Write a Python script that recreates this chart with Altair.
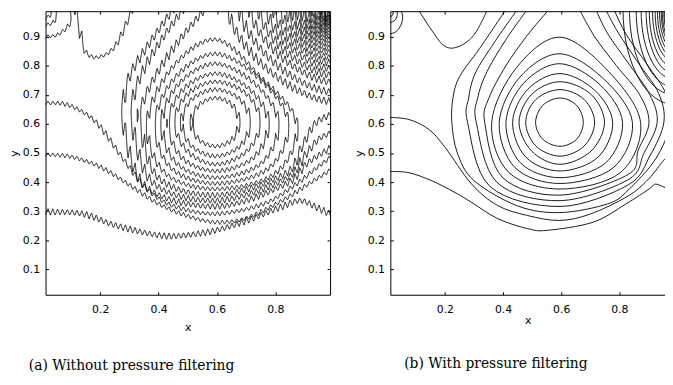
import altair as alt
import numpy as np
import pandas as pd
from collections import defaultdict

# ---------------- axes ----------------
X_LO, X_HI = 0.0125, 0.9875
Y_LO, Y_HI = 0.0125, 0.9875
B_X_HI = 0.957            # panel (b) is cut by the page edge
X_TICKS = [0.2, 0.4, 0.6, 0.8]
Y_TICKS = [0.1, 0.2, 0.3, 0.4, 0.5, 0.6, 0.7, 0.8, 0.9]
CAPTION_A = "(a) Without pressure filtering"
CAPTION_B = "(b) With pressure filtering"

W_A, W_B, H = 288, 278, 287

# ---------------- (b) with pressure filtering : contour lines (x, y) ----------------
b_r1 = [(0.676, 0.605), (0.653, 0.664), (0.596, 0.689), (0.537, 0.664), (0.512, 0.605),
        (0.537, 0.547), (0.596, 0.523), (0.653, 0.547)]
b_r2 = [(0.715, 0.605), (0.679, 0.684), (0.596, 0.718), (0.513, 0.684), (0.478, 0.605),
        (0.513, 0.524), (0.596, 0.489), (0.679, 0.524)]
b_r3 = [(0.749, 0.605), (0.702, 0.702), (0.596, 0.745), (0.499, 0.702), (0.455, 0.605),
        (0.499, 0.506), (0.596, 0.461), (0.702, 0.506)]
b_r4 = [(0.777, 0.605), (0.715, 0.716), (0.596, 0.773), (0.485, 0.719), (0.433, 0.605),
        (0.479, 0.485), (0.596, 0.438), (0.726, 0.485)]
b_r5 = [(0.811, 0.605), (0.734, 0.734), (0.596, 0.807), (0.471, 0.740), (0.410, 0.605),
        (0.460, 0.466), (0.596, 0.415), (0.753, 0.466)]
b_r6 = [(0.845, 0.605), (0.750, 0.751), (0.596, 0.841), (0.458, 0.761), (0.387, 0.605),
        (0.441, 0.450), (0.596, 0.395), (0.780, 0.450)]
b_r7 = [(0.873, 0.605), (0.762, 0.781), (0.596, 0.898), (0.446, 0.793), (0.361, 0.605),
        (0.420, 0.433), (0.596, 0.376), (0.804, 0.433)]
b_r8 = [(0.553, 0.9875), (0.480, 0.900), (0.410, 0.800), (0.352, 0.690), (0.337, 0.605),
        (0.399, 0.415), (0.596, 0.355), (0.830, 0.426), (0.865, 0.510), (0.902, 0.605),
        (0.870, 0.700), (0.790, 0.800), (0.715, 0.900), (0.666, 0.9875)]
b_r9 = [(0.479, 0.9875), (0.410, 0.890), (0.345, 0.780), (0.313, 0.690), (0.308, 0.605),
        (0.380, 0.398), (0.596, 0.336), (0.830, 0.408), (0.885, 0.500), (0.930, 0.605),
        (0.905, 0.700), (0.830, 0.810), (0.760, 0.910), (0.722, 0.9875)]
b_r10 = [(0.445, 0.9875), (0.370, 0.880), (0.305, 0.775), (0.282, 0.690), (0.278, 0.605),
         (0.355, 0.385), (0.596, 0.316), (0.830, 0.390), (0.905, 0.490), (0.953, 0.605),
         (0.935, 0.705), (0.865, 0.810), (0.795, 0.915), (0.756, 0.9875)]
b_r11 = [(0.406, 0.9875), (0.320, 0.860), (0.251, 0.763), (0.228, 0.690), (0.224, 0.605),
         (0.243, 0.500), (0.300, 0.405), (0.450, 0.318), (0.596, 0.295), (0.760, 0.325),
         (0.830, 0.372), (0.925, 0.480), (0.975, 0.600), (0.962, 0.700), (0.895, 0.805),
         (0.825, 0.905), (0.784, 0.9875)]
b_c2 = [(0.0125, 0.622), (0.077, 0.615), (0.145, 0.581), (0.201, 0.519), (0.292, 0.393),
        (0.382, 0.319), (0.484, 0.285), (0.594, 0.268), (0.700, 0.290), (0.830, 0.352),
        (0.900, 0.410), (0.957, 0.480), (0.9875, 0.500)]
b_c1 = [(0.0125, 0.436), (0.077, 0.432), (0.156, 0.404), (0.235, 0.364), (0.292, 0.330),
        (0.382, 0.274), (0.484, 0.240), (0.552, 0.234), (0.710, 0.262), (0.823, 0.325),
        (0.902, 0.376), (0.924, 0.393), (0.958, 0.381), (0.9875, 0.375)]
b_dip = [(0.112, 0.9875), (0.152, 0.926), (0.197, 0.869), (0.242, 0.864), (0.298, 0.903),
         (0.344, 0.9875)]
b_tl1 = [(0.0125, 0.910), (0.032, 0.917), (0.049, 0.940), (0.055, 0.968), (0.050, 0.9875)]
b_tl2 = [(0.0125, 0.948), (0.028, 0.956), (0.036, 0.972), (0.036, 0.9875)]
b_tl3 = [(0.0125, 0.968), (0.020, 0.974), (0.023, 0.9875)]
# contours around the top-right corner: x where they meet the top edge, y at the right edge
b_corner_top_x = [0.813, 0.835, 0.858, 0.875, 0.892, 0.903, 0.914, 0.923, 0.931, 0.938,
                  0.944, 0.948, 0.953, 0.956]
b_corner_right_y = [0.667, 0.700, 0.727, 0.754, 0.774, 0.795, 0.815, 0.829, 0.842, 0.855,
                    0.867, 0.877, 0.888, 0.897]

# ---------------- (a) without pressure filtering ----------------
a_r7 = [(0.873, 0.605), (0.745, 0.765), (0.596, 0.890), (0.446, 0.793), (0.361, 0.605),
        (0.420, 0.433), (0.596, 0.376), (0.804, 0.433)]
a_r8 = [(0.553, 0.9875), (0.480, 0.900), (0.410, 0.800), (0.352, 0.690), (0.337, 0.605),
        (0.399, 0.415), (0.596, 0.355), (0.830, 0.426), (0.890, 0.520), (0.935, 0.600),
        (0.9875, 0.631)]
a_r9 = [(0.479, 0.9875), (0.410, 0.890), (0.345, 0.780), (0.313, 0.690), (0.308, 0.605),
        (0.380, 0.398), (0.596, 0.336), (0.830, 0.408), (0.900, 0.490), (0.945, 0.545),
        (0.9875, 0.568)]
a_r10 = [(0.445, 0.9875), (0.370, 0.880), (0.305, 0.775), (0.282, 0.690), (0.278, 0.605),
         (0.355, 0.385), (0.596, 0.316), (0.830, 0.390), (0.910, 0.465), (0.9875, 0.517)]
a_l1 = [(0.0125, 0.298), (0.139, 0.291), (0.252, 0.251), (0.399, 0.217), (0.489, 0.217),
        (0.596, 0.234), (0.704, 0.268), (0.817, 0.313), (0.884, 0.336), (0.941, 0.313),
        (0.9875, 0.290)]
a_l2 = [(0.0125, 0.495), (0.100, 0.487), (0.200, 0.452), (0.300, 0.390), (0.400, 0.325),
        (0.500, 0.283), (0.596, 0.262), (0.700, 0.276), (0.830, 0.340), (0.900, 0.385),
        (0.9875, 0.440)]
a_l3 = [(0.0125, 0.672), (0.080, 0.668), (0.150, 0.635), (0.200, 0.590), (0.250, 0.520),
        (0.300, 0.450), (0.360, 0.375), (0.450, 0.318), (0.596, 0.291), (0.760, 0.325),
        (0.870, 0.392), (0.930, 0.440), (0.9875, 0.484)]
a_dip = [(0.116, 0.9875), (0.130, 0.920), (0.150, 0.847), (0.195, 0.830), (0.252, 0.869),
         (0.308, 0.9875)]
a_tl1 = [(0.0125, 0.900), (0.050, 0.905), (0.085, 0.930), (0.100, 0.960), (0.095, 0.9875)]
a_tl2 = [(0.0125, 0.940), (0.040, 0.950), (0.050, 0.9875)]
a_tl3 = [(0.0125, 0.965), (0.025, 0.970), (0.030, 0.9875)]
a_corner_top_x = [0.640, 0.680, 0.715, 0.745, 0.772, 0.797, 0.820, 0.841, 0.860, 0.877,
                  0.893, 0.907, 0.920, 0.932, 0.943, 0.952, 0.960, 0.967, 0.973, 0.978]
a_corner_right_y = [0.677, 0.710, 0.744, 0.768, 0.790, 0.810, 0.828, 0.845, 0.860, 0.874,
                    0.887, 0.899, 0.910, 0.920, 0.930, 0.939, 0.947, 0.954, 0.961, 0.967]
# odd/even pressure oscillation of (a): column width (px) and contour displacement (px)
A_COLUMN = 2.45
A_SHIFT = {"ring": 2.3, "cell": 3.1, "l1": 3.3, "line": 2.2, "small": 2.0, "corner": 3.7}

# ---------------- helpers ----------------
PX_X = W_A / (X_HI - X_LO)
PX_Y = H / (Y_HI - Y_LO)


def to_df(curves):
    rows = []
    for name, pts in curves.items():
        for i, (x, y) in enumerate(pts):
            rows.append({"c": name, "o": i, "x": x, "y": y})
    return pd.DataFrame(rows)


def corner_curves(tops, rights, p=2.0, n=16):
    out = {}
    for k, (xt, yr) in enumerate(zip(tops, rights)):
        a, b = X_HI - xt, Y_HI - yr
        t = np.linspace(0, np.pi / 2, n)
        out[f"k{k}"] = list(zip(X_HI - a * np.cos(t) ** (2 / p), Y_HI - b * np.sin(t) ** (2 / p)))
    return out


def spline(P, closed, n=24):
    P = np.asarray(P, float)
    Q = np.vstack([P[-1], P, P[0], P[1]]) if closed else np.vstack([2 * P[0] - P[1], P, 2 * P[-1] - P[-2]])
    out = []
    t = np.linspace(0, 1, n, endpoint=False)[:, None]
    for i in range(1, len(Q) - 2):
        p0, p1, p2, p3 = Q[i - 1], Q[i], Q[i + 1], Q[i + 2]
        out.append(0.5 * (2 * p1 + (-p0 + p2) * t + (2 * p0 - 5 * p1 + 4 * p2 - p3) * t ** 2
                          + (-p0 + 3 * p1 - 3 * p2 + p3) * t ** 3))
    out.append(Q[-2][None])
    return np.vstack(out)


def tri(x):
    return 1.0 - 2.0 * np.abs((x / A_COLUMN) % 2.0 - 1.0)


GRID = 0.8


def march(F, gx, gy):
    pts = {}

    def edge_pt(key):
        if key not in pts:
            kind, j, i = key
            if kind == "h":
                fa, fb = F[j, i], F[j, i + 1]
                t = fa / (fa - fb)
                pts[key] = (gx[i] + t * (gx[i + 1] - gx[i]), gy[j])
            else:
                fa, fb = F[j, i], F[j + 1, i]
                t = fa / (fa - fb)
                pts[key] = (gx[i], gy[j] + t * (gy[j + 1] - gy[j]))
        return pts[key]

    a, b, c, e = F[:-1, :-1], F[:-1, 1:], F[1:, 1:], F[1:, :-1]
    valid = ~(np.isnan(a) | np.isnan(b) | np.isnan(c) | np.isnan(e))
    A, B, C, E = a > 0, b > 0, c > 0, e > 0
    mixed = valid & ~((A == B) & (B == C) & (C == E))
    adj = defaultdict(list)
    for j, i in zip(*np.nonzero(mixed)):
        bottom, right, top, left = ("h", j, i), ("v", j, i + 1), ("h", j + 1, i), ("v", j, i)
        p00, p10, p11, p01 = A[j, i], B[j, i], C[j, i], E[j, i]
        cross = []
        if p00 != p10:
            cross.append(bottom)
        if p10 != p11:
            cross.append(right)
        if p11 != p01:
            cross.append(top)
        if p01 != p00:
            cross.append(left)
        if len(cross) == 2:
            pairs = [tuple(cross)]
        else:
            center = (a[j, i] + b[j, i] + c[j, i] + e[j, i]) > 0
            pairs = [(bottom, right), (top, left)] if center == p00 else [(bottom, left), (right, top)]
        for u, v in pairs:
            adj[u].append(v)
            adj[v].append(u)
    seen, chains = set(), []

    def walk(start):
        chain, cur = [start], start
        seen.add(start)
        while True:
            nxt = [n for n in adj[cur] if n not in seen]
            if not nxt:
                return chain
            cur = nxt[0]
            seen.add(cur)
            chain.append(cur)

    for node in list(adj):
        if len(adj[node]) == 1 and node not in seen:
            chains.append(walk(node))
    for node in list(adj):
        if node not in seen:
            ch = walk(node)
            ch.append(ch[0])
            chains.append(ch)
    return [[edge_pt(k) for k in ch] for ch in chains]


def oscillating(pts, closed, d):
    """contour line shifted by +-d px in alternate columns (odd/even decoupling)"""
    P = np.array([((x - X_LO) * PX_X, (y - Y_LO) * PX_Y) for x, y in pts])
    S = spline(P, closed)
    s = np.r_[0, np.cumsum(np.hypot(*np.diff(S, axis=0).T))]
    t = np.arange(0, s[-1] + 0.3, 0.6)
    sx, sy = np.interp(t, s, S[:, 0]), np.interp(t, s, S[:, 1])
    tx, ty = np.gradient(sx), np.gradient(sy)
    nn = np.hypot(tx, ty) + 1e-12
    nx, ny = -ty / nn, tx / nn
    m = d + 3
    gx = np.arange(max(sx.min() - m, -m), min(sx.max() + m, W_A + m), GRID)
    gy = np.arange(max(sy.min() - m, -m), min(sy.max() + m, H + m), GRID)
    GX, GY = np.meshgrid(gx, gy)
    px, py = GX.ravel(), GY.ravel()
    cx, cy = sx[::5], sy[::5]
    keep = np.zeros(px.size, bool)
    for k in range(0, px.size, 20000):
        dx = px[k:k + 20000, None] - cx[None]
        dy = py[k:k + 20000, None] - cy[None]
        keep[k:k + 20000] = (dx * dx + dy * dy).min(1) < (m + 2) ** 2
    F = np.full(px.size, np.nan)
    idx = np.nonzero(keep)[0]
    for k in range(0, idx.size, 3000):
        ii = idx[k:k + 3000]
        dx = px[ii, None] - sx[None]
        dy = py[ii, None] - sy[None]
        j = (dx * dx + dy * dy).argmin(1)
        sd = (px[ii] - sx[j]) * nx[j] + (py[ii] - sy[j]) * ny[j]
        F[ii] = sd - d * tri(px[ii])
    return march(F.reshape(GX.shape), gx, gy)


def oscillating_df(groups):
    rows, cid = [], 0
    for curves, closed, d in groups:
        for pts in curves:
            for chain in oscillating(pts, closed, d):
                for o, (x, y) in enumerate(chain):
                    rows.append((cid, o, round(X_LO + x / PX_X, 4), round(Y_LO + y / PX_Y, 4)))
                cid += 1
    return pd.DataFrame(rows, columns=["c", "o", "x", "y"])


# ---------------- chart ----------------
AX = dict(grid=False, domainColor="black", tickColor="black", labelColor="black",
          labelFont="DejaVu Sans", labelFontSize=11, titleFont="DejaVu Sans",
          titleFontSize=11, titleFontWeight="normal", titleColor="black")


def panel(groups, W, x_hi, right_frame, caption, cap_dx, cap_offset, xtitle_pad):
    xs = alt.Scale(domain=[X_LO, x_hi], nice=False, zero=False)
    ys = alt.Scale(domain=[Y_LO, Y_HI], nice=False, zero=False)
    x_axes = [
        alt.Axis(orient="bottom", values=X_TICKS, format=".1f", ticks=False, tickSize=0,
                 labelPadding=9, title="x", titlePadding=xtitle_pad, **AX),
        alt.Axis(orient="top", offset=-H, values=X_TICKS, tickSize=3, labels=False,
                 domain=False, title=None, **AX),
        alt.Axis(orient="bottom", offset=-H, values=X_TICKS, tickSize=3, labels=False,
                 domain=True, title=None, **AX),
    ]
    y_axes = [
        alt.Axis(orient="left", values=Y_TICKS, format=".1f", ticks=False, tickSize=0,
                 labelPadding=6, title="y", titlePadding=3, **AX),
        alt.Axis(orient="right", offset=-W, values=Y_TICKS, tickSize=3, labels=False,
                 domain=False, title=None, **AX),
        alt.Axis(orient="left", offset=-W, values=Y_TICKS, tickSize=3, labels=False,
                 domain=True, title=None, **AX) if right_frame else None,
    ]
    layers = []
    for (df, interp), xa, ya in zip(groups, x_axes, y_axes):
        layers.append(
            alt.Chart(df).mark_line(interpolate=interp, clip=True, color="black",
                                    strokeWidth=0.9).encode(
                x=alt.X("x:Q", scale=xs, axis=xa),
                y=alt.Y("y:Q", scale=ys, axis=ya),
                detail="c:N",
                order="o:Q",
            )
        )
    return alt.layer(*layers).resolve_axis(x="independent", y="independent").properties(
        width=W, height=H,
        title=alt.TitleParams(text=caption, orient="bottom", anchor="start", frame="group",
                              dx=cap_dx, offset=cap_offset, font="DejaVu Serif",
                              fontSize=14, fontWeight="normal", color="black",
                              baseline="top"),
    )


# panel (b)
b_closed = {"r1": b_r1, "r2": b_r2, "r3": b_r3, "r4": b_r4, "r5": b_r5, "r6": b_r6, "r7": b_r7}
b_open = {"r8": b_r8, "r9": b_r9, "r10": b_r10, "r11": b_r11, "c1": b_c1, "c2": b_c2,
          "dip": b_dip, "tl1": b_tl1, "tl2": b_tl2, "tl3": b_tl3}
b_corner = corner_curves(b_corner_top_x, b_corner_right_y)

chart_b = panel([(to_df(b_closed), "cardinal-closed"), (to_df(b_open), "cardinal"),
                 (to_df(b_corner), "cardinal")],
                W_B, B_X_HI, False, CAPTION_B, 14, 32, 0)

# panel (a)
a_rings = [b_r1, b_r2, b_r3, b_r4, b_r5, b_r6, a_r7]
a_cells = [a_r8, a_r9, a_r10]
a_small = [a_dip, a_tl1, a_tl2, a_tl3]
a_corner = list(corner_curves(a_corner_top_x, a_corner_right_y, p=1.5).values())

df_a1 = oscillating_df([(a_rings, True, A_SHIFT["ring"])])
df_a2 = oscillating_df([(a_cells, False, A_SHIFT["cell"]), ([a_l1], False, A_SHIFT["l1"]),
                        ([a_l2, a_l3], False, A_SHIFT["line"]),
                        (a_small, False, A_SHIFT["small"])])
df_a3 = oscillating_df([(a_corner, False, A_SHIFT["corner"])])

chart_a = panel([(df_a1, "linear"), (df_a2, "linear"), (df_a3, "linear")],
                W_A, X_HI, True, CAPTION_A, -17, 27, 7)

chart = alt.hconcat(chart_a, chart_b, spacing=22).properties(padding=0).configure_view(stroke=None)

chart.save("out.html", embed_options={"renderer": "svg", "actions": False})
